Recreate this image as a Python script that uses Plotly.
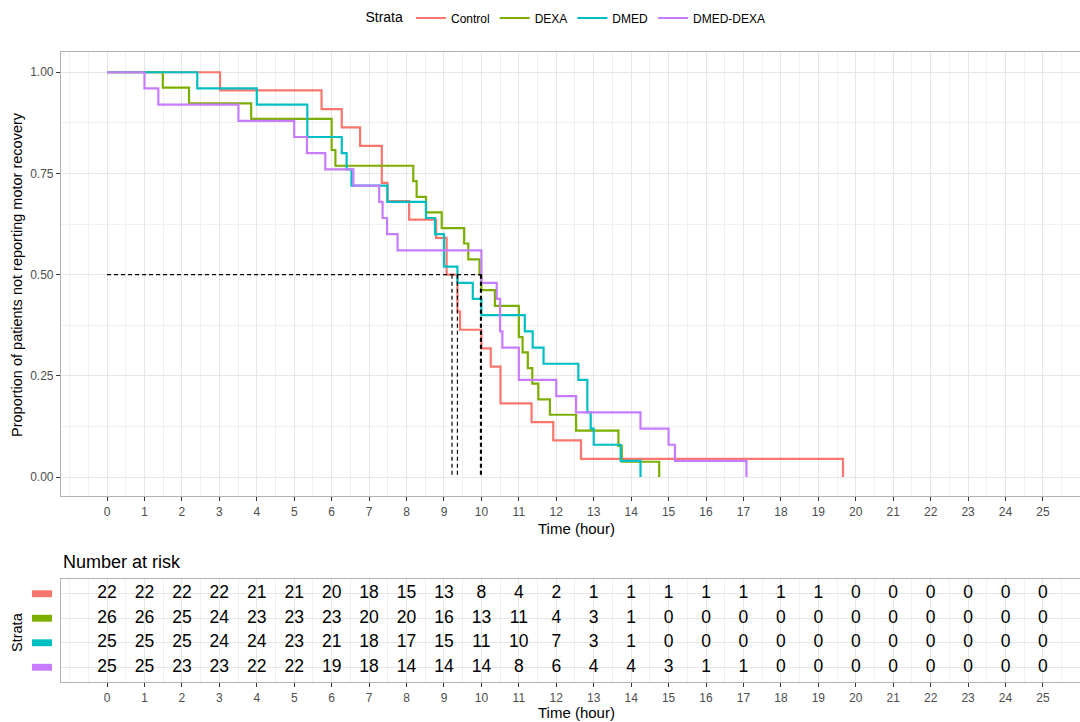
import plotly.graph_objects as go

# ---------------- data ----------------
strata = ["Control", "DEXA", "DMED", "DMED-DEXA"]
colors = ["#F8766D", "#7CAE00", "#00BFC4", "#C77CFF"]

control_time = [0, 3.02, 5.73, 6.27, 6.76, 7.34, 7.49, 8.07, 8.79, 9.07, 9.36, 9.43,
                10.0, 10.25, 10.51, 11.34, 11.92, 12.66, 19.66]
control_surv = [1, 0.955, 0.909, 0.864, 0.818, 0.727, 0.682, 0.636, 0.591, 0.5, 0.409, 0.364,
                0.318, 0.273, 0.182, 0.136, 0.091, 0.045, 0]

dexa_time = [0, 1.49, 2.19, 3.85, 6.0, 6.1, 8.18, 8.27, 8.52, 8.94, 9.54, 9.65, 9.95,
             10.0, 10.36, 11.0, 11.1, 11.24, 11.36, 11.52, 11.83, 12.53, 13.66, 13.75, 14.75]
dexa_surv = [1, 0.962, 0.923, 0.885, 0.808, 0.769, 0.731, 0.692, 0.654, 0.615, 0.577, 0.538, 0.5,
             0.462, 0.423, 0.346, 0.308, 0.269, 0.231, 0.192, 0.154, 0.115, 0.077, 0.038, 0]

dmed_time = [0, 2.41, 4.0, 5.35, 6.27, 6.4, 6.53, 7.49, 8.52, 8.76, 9.0, 9.36, 9.77,
             10.0, 11.16, 11.37, 11.66, 12.59, 12.83, 12.92, 13.0, 13.72, 14.25]
dmed_surv = [1, 0.96, 0.92, 0.84, 0.80, 0.76, 0.72, 0.68, 0.64, 0.60, 0.52, 0.48, 0.44,
             0.40, 0.36, 0.32, 0.28, 0.24, 0.16, 0.12, 0.08, 0.04, 0]

dmeddexa_time = [0, 1.0, 1.37, 3.51, 5.0, 5.34, 5.83, 6.58, 7.27, 7.36, 7.48, 7.76,
                 10.0, 10.41, 10.5, 10.56, 11.0, 12.0, 12.53, 14.25, 15.0, 15.17, 17.08]
dmeddexa_surv = [1, 0.96, 0.92, 0.88, 0.84, 0.80, 0.76, 0.72, 0.68, 0.64, 0.60, 0.56,
                 0.48, 0.44, 0.36, 0.32, 0.24, 0.20, 0.16, 0.12, 0.08, 0.04, 0]

risk_times = list(range(0, 26))
risk_control = [22, 22, 22, 22, 21, 21, 20, 18, 15, 13, 8, 4, 2, 1, 1, 1, 1, 1, 1, 1, 0, 0, 0, 0, 0, 0]
risk_dexa = [26, 26, 25, 24, 23, 23, 23, 20, 20, 16, 13, 11, 4, 3, 1, 0, 0, 0, 0, 0, 0, 0, 0, 0, 0, 0]
risk_dmed = [25, 25, 25, 24, 24, 23, 21, 18, 17, 15, 11, 10, 7, 3, 1, 0, 0, 0, 0, 0, 0, 0, 0, 0, 0, 0]
risk_dmeddexa = [25, 25, 23, 23, 22, 22, 19, 18, 14, 14, 14, 8, 6, 4, 4, 3, 1, 1, 0, 0, 0, 0, 0, 0, 0, 0]

x_ticks = list(range(0, 26))
y_tickvals = [0, 0.25, 0.5, 0.75, 1.0]
y_ticktext = ["0.00", "0.25", "0.50", "0.75", "1.00"]

curves = [(control_time, control_surv), (dexa_time, dexa_surv),
          (dmed_time, dmed_surv), (dmeddexa_time, dmeddexa_surv)]
risks = [risk_control, risk_dexa, risk_dmed, risk_dmeddexa]


def km_median(t, s):
    for i, v in enumerate(s):
        if abs(v - 0.5) < 1e-3 and i + 1 < len(t):
            return (t[i] + t[i + 1]) / 2
        if v < 0.5:
            return t[i]
    return None


FONT = "Liberation Sans, Arial, sans-serif"
GRID = "#E6E6E6"
MINOR = "#F0F0F0"
BORDER = "#B3B3B3"
TICKC = "#4D4D4D"

fig = go.Figure()

for name, col, (t, s) in zip(strata, colors, curves):
    fig.add_trace(go.Scatter(x=t, y=s, mode="lines", name=name,
                             line=dict(shape="hv", color=col, width=2.2),
                             xaxis="x", yaxis="y"))

# median lines
medians = [km_median(t, s) for t, s in curves]
mmax = max(medians)
fig.add_trace(go.Scatter(x=[0, mmax], y=[0.5, 0.5], mode="lines", showlegend=False,
                         line=dict(color="black", width=1.2, dash="4px,3px"),
                         xaxis="x", yaxis="y", hoverinfo="skip"))
for m in medians:
    fig.add_trace(go.Scatter(x=[m, m], y=[0.5, 0], mode="lines", showlegend=False,
                             line=dict(color="black", width=1.2, dash="4px,3px"),
                             xaxis="x", yaxis="y", hoverinfo="skip"))

# risk table
rows = [4, 3, 2, 1]
for r, vals in zip(rows, risks):
    fig.add_trace(go.Scatter(x=risk_times, y=[r] * len(risk_times), mode="text",
                             text=[str(v) for v in vals], showlegend=False,
                             textposition="middle center",
                             textfont=dict(size=17.5, color="black", family=FONT),
                             xaxis="x2", yaxis="y2", hoverinfo="skip"))

# colored keys for risk-table strata
shapes = []
for r, col in zip(rows, colors):
    shapes.append(dict(type="rect", xref="paper", yref="y2",
                       x0=-0.0285, x1=-0.0088, y0=r - 0.14, y1=r + 0.14,
                       fillcolor=col, line=dict(width=0)))

xrange = [-1.23, 25.99]
common_x = dict(range=xrange, tickvals=x_ticks, ticks="outside", ticklen=4,
                tickcolor="#333333", tickfont=dict(size=12, color=TICKC, family=FONT),
                showgrid=True, gridcolor=GRID, gridwidth=1,
                minor=dict(dtick=0.5, tick0=0, showgrid=True, gridcolor=MINOR, gridwidth=0.8),
                showline=True, linecolor=BORDER, linewidth=1.2, mirror=True,
                zeroline=False, automargin=False)

fig.update_layout(
    template="none",
    width=1080, height=722,
    margin=dict(l=61, r=0, t=52, b=40, autoexpand=False),
    paper_bgcolor="white", plot_bgcolor="white",
    font=dict(family=FONT, color="black"),
    showlegend=True,
    legend=dict(orientation="h", x=0.4965, xanchor="center",
                yref="container", y=1 - 18 / 722, yanchor="middle",
                title=dict(text="Strata", font=dict(size=14, family=FONT)),
                font=dict(size=12, family=FONT), itemwidth=30, tracegroupgap=0),
    xaxis=dict(domain=[0, 1], anchor="y", **common_x),
    yaxis=dict(domain=[0.295, 1], anchor="x", range=[-0.047, 1.05],
               tickvals=y_tickvals, ticktext=y_ticktext, ticks="outside", ticklen=4,
               tickcolor="#333333", tickfont=dict(size=12, color=TICKC, family=FONT),
               showgrid=True, gridcolor=GRID,
               minor=dict(dtick=0.125, tick0=0, showgrid=True, gridcolor=MINOR, gridwidth=0.8),
               showline=True, linecolor=BORDER, linewidth=1.2, zeroline=False,
               automargin=False),
    xaxis2=dict(domain=[0, 1], anchor="y2", **common_x),
    yaxis2=dict(domain=[0, 0.1635], anchor="x2", range=[0.4, 4.6],
                tickvals=[1, 2, 3, 4], showticklabels=False, ticks="",
                showgrid=True, gridcolor=GRID,
                showline=True, linecolor=BORDER, linewidth=1.2, zeroline=False,
                automargin=False),
    shapes=shapes,
    annotations=[
        dict(text="Time (hour)", xref="paper", yref="paper", x=0.5054, y=0.2444,
             xanchor="center", yanchor="middle", showarrow=False, font=dict(size=15)),
        dict(text="Time (hour)", xref="paper", yref="paper", x=0.5054, y=-0.0492,
             xanchor="center", yanchor="middle", showarrow=False, font=dict(size=15)),
        dict(text="Proportion of patients not reporting motor recovery", xref="paper",
             yref="paper", x=-0.0432, y=(682 - 274) / 630, xanchor="center",
             yanchor="middle", textangle=-90, showarrow=False, font=dict(size=14.5)),
        dict(text="Strata", xref="paper", yref="paper", x=-0.0432, y=(682 - 632) / 630,
             xanchor="center", yanchor="middle", textangle=-90, showarrow=False,
             font=dict(size=14.5)),
        dict(text="Number at risk", xref="paper", yref="paper", x=0, y=(682 - 562) / 630,
             xanchor="left", yanchor="middle", showarrow=False, font=dict(size=18)),
    ],
)

fig.write_html("out.html", config={"displayModeBar": False},
               post_script="document.body.style.margin='0';document.body.style.overflow='hidden';")
